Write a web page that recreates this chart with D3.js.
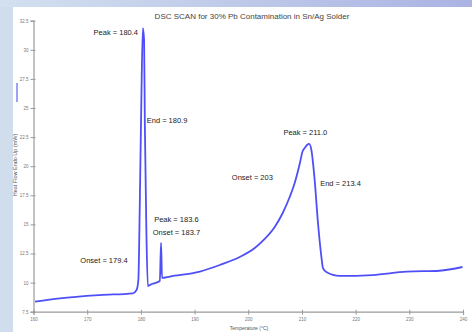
<!DOCTYPE html>
<html>
<head>
<meta charset="utf-8">
<script src="https://cdn.jsdelivr.net/npm/d3@7"></script>
<style>
  body { margin: 0; background: #fff; }
  text { font-family: "Liberation Sans", Arial, sans-serif; }
</style>
</head>
<body>
<script>
// DSC scan, temperature (C) vs heat flow
var temps = [160.28, 164.93, 172.37, 178.51, 179.2, 179.53, 179.81, 180.09, 180.37, 180.6,
             180.74, 181.02, 181.3, 182.05, 183.53, 183.76, 183.94, 185.4, 190.98, 194.7,
             198.42, 201.21, 203.07, 204.93, 206.42, 207.72, 208.65, 209.58, 210.14, 210.51,
             210.94, 211.35, 211.76, 212.37, 212.99, 213.62, 213.92, 214.55, 217.02, 223.16,
             229.49, 235.63, 239.91];
var heatFlow = [8.36, 8.65, 8.93, 9.08, 9.36, 10.22, 17.1, 25.69, 31.87, 30.84,
                23.55, 14.52, 9.71, 9.88, 10.14, 13.4, 10.4, 10.52, 10.94, 11.51,
                12.2, 12.97, 13.75, 14.78, 15.98, 17.35, 18.56, 20.19, 21.31, 21.56,
                21.82, 21.91, 21.39, 18.81, 15.12, 12.23, 11.25, 10.91, 10.57, 10.65,
                10.94, 11.02, 11.34];

var xTicks = [160, 170, 180, 190, 200, 210, 220, 230, 240];
var yTicks = [7.5, 10, 12.5, 15, 17.5, 20, 22.5, 25, 27.5, 30, 32.5];

var annotations = [
    {t: 180.4, v: 31.3, text: "Peak = 180.4", dx: -5, anchor: "end"},
    {t: 180.9, v: 23.7, text: "End = 180.9", dx: 1, anchor: "start"},
    {t: 179.4, v: 11.7, text: "Onset = 179.4", dx: -10, anchor: "end"},
    {t: 183.6, v: 15.2, text: "Peak = 183.6", dx: -6, anchor: "start"},
    {t: 183.7, v: 14.1, text: "Onset = 183.7", dx: -8, anchor: "start"},
    {t: 211.0, v: 22.7, text: "Peak = 211.0", dx: -2, anchor: "middle"},
    {t: 203, v: 18.8, text: "Onset = 203", dx: -12, anchor: "middle"},
    {t: 213.4, v: 18.3, text: "End = 213.4", dx: 0, anchor: "start"}
];

var svg = d3.select("body").append("svg")
    .attr("width", 472)
    .attr("height", 332);

var defs = svg.append("defs");
var grad = defs.append("linearGradient").attr("id", "topband")
    .attr("x1", "0%").attr("x2", "100%");
grad.append("stop").attr("offset", "0%").attr("stop-color", "#d3e0ef");
grad.append("stop").attr("offset", "100%").attr("stop-color", "#aab3e3");

// frame background
svg.append("rect").attr("width", 472).attr("height", 332).attr("fill", "#d0dded");
svg.append("rect").attr("width", 472).attr("height", 7).attr("fill", "url(#topband)");
svg.append("rect").attr("x", 13).attr("y", 7).attr("width", 459).attr("height", 325).attr("fill", "#fff");

var x = d3.scaleLinear().domain([160, 240]).range([33.5, 463]);
var y = d3.scaleLinear().domain([7.5, 32.5]).range([311.7, 20.7]);

var xaxis = svg.append("g")
    .attr("transform", "translate(0," + y(7.5) + ")")
    .call(d3.axisBottom(x).tickValues(xTicks).tickFormat(d3.format("d")).tickSize(3).tickPadding(3));

var yaxis = svg.append("g")
    .attr("transform", "translate(" + x(160) + ",0)")
    .call(d3.axisLeft(y).tickValues(yTicks).tickFormat(function(d) { return d; }).tickSize(3).tickPadding(2));

[xaxis, yaxis].forEach(function(ax) {
    ax.select(".domain").attr("stroke", "#9a9a9a").attr("stroke-width", 1.2);
    ax.selectAll(".tick line").attr("stroke", "#9a9a9a");
    ax.selectAll(".tick text").attr("fill", "#777").style("font-size", "4.5px");
});
xaxis.selectAll(".tick line").attr("y1", -2);
yaxis.selectAll(".tick line").attr("x1", 2);

var line = d3.line()
    .curve(d3.curveMonotoneX)
    .x(function(d) { return x(d[0]); })
    .y(function(d) { return y(d[1]); });

svg.append("path")
    .datum(d3.zip(temps, heatFlow))
    .attr("fill", "none")
    .attr("stroke", "#4f4ff7")
    .attr("stroke-width", 1.8)
    .attr("stroke-linejoin", "round")
    .attr("d", line);

svg.append("text")
    .attr("x", 252).attr("y", 19)
    .attr("text-anchor", "middle")
    .style("font-size", "8px")
    .attr("fill", "#444")
    .text("DSC SCAN for 30% Pb Contamination in Sn/Ag Solder");

svg.append("text")
    .attr("x", 249).attr("y", 330)
    .attr("text-anchor", "middle")
    .style("font-size", "5px")
    .attr("fill", "#555")
    .text("Temperature (°C)");

svg.append("text")
    .attr("transform", "translate(17,165) rotate(-90)")
    .attr("text-anchor", "middle")
    .style("font-size", "5.5px")
    .attr("fill", "#555")
    .text("Heat Flow Endo Up (mW)");

svg.append("line")
    .attr("x1", 17).attr("x2", 17)
    .attr("y1", 83).attr("y2", 102)
    .attr("stroke", "#8080f0")
    .attr("stroke-width", 1.5);

svg.selectAll(".annot")
    .data(annotations)
    .enter().append("text")
    .attr("class", "annot")
    .attr("x", function(d) { return x(d.t) + d.dx; })
    .attr("y", function(d) { return y(d.v); })
    .attr("text-anchor", function(d) { return d.anchor; })
    .style("font-size", "7.5px")
    .attr("fill", "#222")
    .text(function(d) { return d.text; });
</script>
</body>
</html>
